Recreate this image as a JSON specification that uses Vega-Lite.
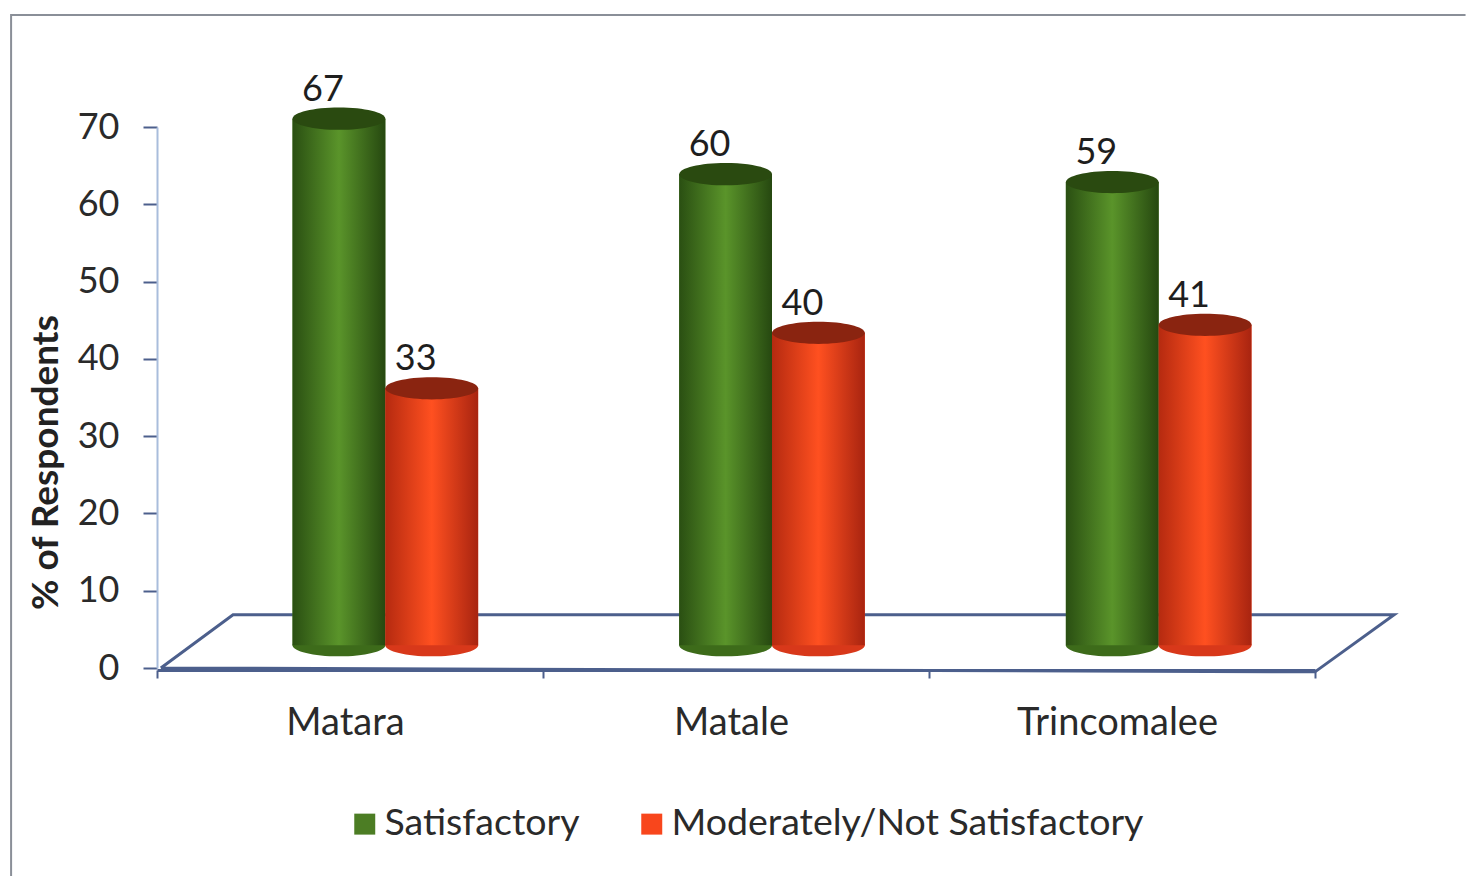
{"$schema":"https://vega.github.io/schema/vega-lite/v6.json","width":1158,"height":541,"autosize":"none","padding":{"left":157,"top":127,"right":151,"bottom":208},"background":"#ffffff","config":{"view":{"stroke":null},"font":"Lato"},"datasets":{"bars":[{"district":"Matara","series":"Satisfactory","value":67},{"district":"Matara","series":"Moderately/Not Satisfactory","value":33},{"district":"Matale","series":"Satisfactory","value":60},{"district":"Matale","series":"Moderately/Not Satisfactory","value":40},{"district":"Trincomalee","series":"Satisfactory","value":59},{"district":"Trincomalee","series":"Moderately/Not Satisfactory","value":41}]},"layer":[{"data":{"values":[{"i":0,"u":-0.378,"p":-27},{"i":1,"u":-0.378,"p":84.5},{"i":2,"u":3.39,"p":84.5}]},"mark":{"type":"line","color":"#8a8f98","strokeWidth":2,"clip":false},"encoding":{"x":{"field":"u","type":"quantitative","axis":null,"scale":{"domain":[0,3],"nice":false,"zero":false}},"y":{"field":"p","type":"quantitative","axis":null,"scale":{"domain":[0,70],"nice":false,"zero":false}},"order":{"field":"i"}}},{"data":{"values":[{"i":0,"u":0.01,"p":0},{"i":1,"u":0.197,"p":6.9},{"i":2,"u":3.205,"p":6.9},{"i":3,"u":3,"p":-0.5},{"i":4,"u":0.01,"p":0}]},"mark":{"type":"line","color":"#4c5f8c","strokeWidth":3,"clip":false},"encoding":{"x":{"field":"u","type":"quantitative","axis":null,"scale":{"domain":[0,3],"nice":false,"zero":false}},"y":{"field":"p","type":"quantitative","axis":null,"scale":{"domain":[0,70],"nice":false,"zero":false}},"order":{"field":"i"}}},{"data":{"name":"bars"},"mark":{"type":"bar","opacity":0},"encoding":{"x":{"field":"district","type":"nominal","title":null,"scale":{"domain":["Matara","Matale","Trincomalee"],"paddingInner":0,"paddingOuter":0},"axis":{"domain":true,"domainColor":"#4c5f8c","domainWidth":3,"tickColor":"#4c5f8c","tickWidth":2,"tickSize":8,"tickBand":"extent","labelAngle":0,"labelFontSize":38,"labelColor":"#2a2a2a","labelPadding":26,"labelOffset":-5,"labelLimit":500,"offset":2}},"y":{"field":"value","type":"quantitative","stack":null,"title":"% of Respondents","scale":{"domain":[0,70],"nice":false},"axis":{"values":[0,10,20,30,40,50,60,70],"domain":true,"domainColor":"#a9bddc","domainWidth":2,"tickColor":"#4c5f8c","tickWidth":2,"tickSize":14,"grid":false,"labelFontSize":36,"labelColor":"#2a2a2a","labelPadding":24,"titleFontSize":37,"titleFontWeight":"bold","titleColor":"#222222","titlePadding":12,"titleY":335}}}},{"data":{"name":"bars"},"encoding":{"x":{"field":"district","type":"nominal","axis":null,"scale":{"domain":["Matara","Matale","Trincomalee"],"range":[35,1195],"paddingInner":0.52,"paddingOuter":0.26}},"xOffset":{"field":"series","type":"nominal","scale":{"domain":["Satisfactory","Moderately/Not Satisfactory"],"paddingInner":0,"paddingOuter":0}},"y":{"field":"value","type":"quantitative","stack":null,"axis":null,"scale":{"domain":[-2.27,65.95],"nice":false,"zero":false}}},"layer":[{"mark":{"type":"bar","clip":false},"encoding":{"y2":{"datum":0.6},"color":{"field":"series","type":"nominal","scale":{"domain":["Satisfactory","Moderately/Not Satisfactory"],"range":["#4c7d24","#f8461c"]},"legend":{"title":null,"orient":"none","legendX":189,"legendY":678,"direction":"horizontal","columns":2,"symbolType":"square","symbolSize":440,"symbolStrokeWidth":0,"labelFontSize":37.5,"labelColor":"#2a2a2a","columnPadding":53,"labelOffset":1,"labelLimit":600}}}},{"transform":[{"filter":"datum.series==='Satisfactory'"}],"layer":[{"mark":{"type":"point","shape":"M-1,0 A1,0.24 0 1,1 1,0 A1,0.24 0 1,1 -1,0 Z","size":8600,"filled":true,"opacity":1,"fill":"#3d6b1a","clip":false},"encoding":{"y":{"datum":0.6}}},{"mark":{"type":"bar","clip":false,"fill":{"gradient":"linear","x1":0,"y1":0,"x2":1,"y2":0,"stops":[{"offset":0,"color":"#2a4f12"},{"offset":0.5,"color":"#5a942a"},{"offset":1,"color":"#264810"}]}},"encoding":{"y2":{"datum":0.6}}},{"mark":{"type":"point","shape":"M-1,0 A1,0.24 0 1,1 1,0 A1,0.24 0 1,1 -1,0 Z","size":8600,"filled":true,"opacity":1,"fill":"#2a4a10","clip":false}}]},{"transform":[{"filter":"datum.series!=='Satisfactory'"}],"layer":[{"mark":{"type":"point","shape":"M-1,0 A1,0.24 0 1,1 1,0 A1,0.24 0 1,1 -1,0 Z","size":8600,"filled":true,"opacity":1,"fill":"#d8381a","clip":false},"encoding":{"y":{"datum":0.6}}},{"mark":{"type":"bar","clip":false,"fill":{"gradient":"linear","x1":0,"y1":0,"x2":1,"y2":0,"stops":[{"offset":0,"color":"#b52a10"},{"offset":0.5,"color":"#ff5020"},{"offset":1,"color":"#a82410"}]}},"encoding":{"y2":{"datum":0.6}}},{"mark":{"type":"point","shape":"M-1,0 A1,0.24 0 1,1 1,0 A1,0.24 0 1,1 -1,0 Z","size":8600,"filled":true,"opacity":1,"fill":"#8a2410","clip":false}}]},{"mark":{"type":"text","fontSize":36,"color":"#1e1e1e","dx":-16,"dy":-29,"baseline":"middle","align":"center","clip":false},"encoding":{"text":{"field":"value","type":"quantitative"}}}]}],"resolve":{"scale":{"x":"independent","y":"independent","color":"independent"},"axis":{"x":"independent","y":"independent"}}}
